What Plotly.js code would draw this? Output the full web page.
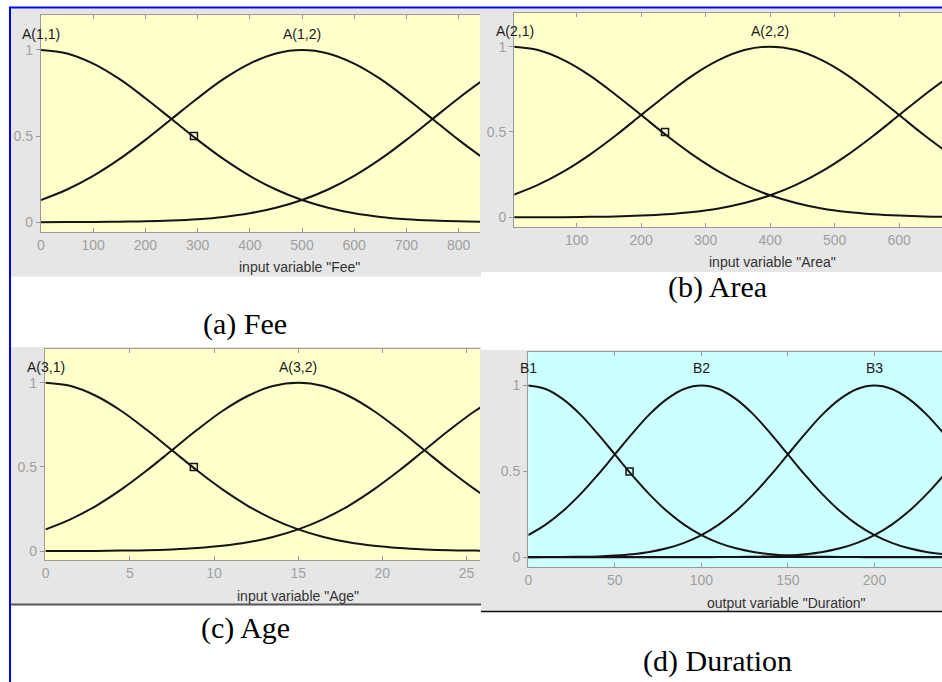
<!DOCTYPE html>
<html>
<head>
<meta charset="utf-8">
<script src="https://cdn.plot.ly/plotly-3.0.1.min.js"></script>
<style>html,body{margin:0;padding:0;background:#fff;}#chart{width:942px;height:682px;}</style>
</head>
<body>
<div id="chart"></div>
<script>
// ---------- Data ----------
// (a) Fee
const feeX = [0,50,100,150,200,250,300,350,400,450,500,550,600,650,700,750,800,850];
const feeA11 = [1,0.980,0.921,0.832,0.720,0.599,0.478,0.366,0.269,0.190,0.129,0.084,0.052,0.031,0.018,0.010,0.005,0.003];
const feeA12 = [0.129,0.190,0.269,0.366,0.478,0.599,0.720,0.832,0.921,0.980,1,0.980,0.921,0.832,0.720,0.599,0.478,0.366];
const feeA13 = [0,0.001,0.001,0.003,0.005,0.010,0.018,0.031,0.052,0.084,0.129,0.190,0.269,0.366,0.478,0.599,0.720,0.832];
const feeLabels = ["A(1,1)","A(1,2)"];
const feeLabelX = [0,500];
const feeTicks = [0,100,200,300,400,500,600,700,800];
const feeMarkX = [293], feeMarkY = [0.5];

// (b) Area
const areaX = [0,40,80,120,160,200,240,280,320,360,400,440,480,520,560,600,640,680];
const areaA21 = [1,0.980,0.921,0.832,0.720,0.599,0.478,0.366,0.269,0.190,0.129,0.084,0.052,0.031,0.018,0.010,0.005,0.003];
const areaA22 = [0.129,0.190,0.269,0.366,0.478,0.599,0.720,0.832,0.921,0.980,1,0.980,0.921,0.832,0.720,0.599,0.478,0.366];
const areaA23 = [0,0.001,0.001,0.003,0.005,0.010,0.018,0.031,0.052,0.084,0.129,0.190,0.269,0.366,0.478,0.599,0.720,0.832];
const areaLabels = ["A(2,1)","A(2,2)"];
const areaLabelX = [4,400];
const areaTicks = [100,200,300,400,500,600];
const areaMarkX = [237], areaMarkY = [0.5];

// (c) Age
const ageX = [0,1.5,3,4.5,6,7.5,9,10.5,12,13.5,15,16.5,18,19.5,21,22.5,24,25.5,27];
const ageA31 = [1,0.980,0.921,0.832,0.720,0.599,0.478,0.366,0.269,0.190,0.129,0.084,0.052,0.031,0.018,0.010,0.005,0.003,0.001];
const ageA32 = [0.129,0.190,0.269,0.366,0.478,0.599,0.720,0.832,0.921,0.980,1,0.980,0.921,0.832,0.720,0.599,0.478,0.366,0.269];
const ageA33 = [0,0.001,0.001,0.003,0.005,0.010,0.018,0.031,0.052,0.084,0.129,0.190,0.269,0.366,0.478,0.599,0.720,0.832,0.921];
const ageLabels = ["A(3,1)","A(3,2)"];
const ageLabelX = [0,15];
const ageTicks = [0,5,10,15,20,25];
const ageMarkX = [8.8], ageMarkY = [0.5];

// (d) Duration
const durX = [0,10,20,30,40,50,60,70,80,90,100,110,120,130,140,150,160,170,180,190,200,210,220,230,240];
const durB1 = [1,0.980,0.921,0.832,0.720,0.599,0.478,0.366,0.269,0.190,0.129,0.084,0.052,0.031,0.018,0.010,0.005,0.003,0.001,0.001,0,0,0,0,0];
const durB2 = [0.129,0.190,0.269,0.366,0.478,0.599,0.720,0.832,0.921,0.980,1,0.980,0.921,0.832,0.720,0.599,0.478,0.366,0.269,0.190,0.129,0.084,0.052,0.031,0.018];
const durB3 = [0,0.001,0.001,0.003,0.005,0.010,0.018,0.031,0.052,0.084,0.129,0.190,0.269,0.366,0.478,0.599,0.720,0.832,0.921,0.980,1,0.980,0.921,0.832,0.720];
const durB4 = [0,0,0,0,0,0,0,0,0,0,0,0.001,0.001,0.003,0.005,0.010,0.018,0.031,0.052,0.084,0.129,0.190,0.269,0.366,0.478];
const durLabels = ["B1","B2","B3"];
const durLabelX = [0,100,200];
const durTicks = [0,50,100,150,200];
const durMarkX = [58.5], durMarkY = [0.5];

const yTicks = [0,0.5,1];
const yTickText = ["0","0.5","1"];
const captions = ["(a) Fee","(b) Area","(c) Age","(d) Duration"];
const axisTitles = ['input variable "Fee"','input variable "Area"','input variable "Age"','output variable "Duration"'];

// ---------- Build ----------
const W = 942, H = 682;
const px = v => v / W;
const py = v => 1 - v / H;

const panels = [
  {xs:feeX, ys:[feeA11,feeA12,feeA13], mx:feeMarkX, my:feeMarkY, labels:feeLabels, lx:feeLabelX, ticks:feeTicks,
   xd:[px(41),px(480)], yd:[py(231.7),py(15)], xr:[0,841], yr:[-0.055,1.203], bg:'#ffffcc', ly:1.09, tx:495, ty:267},
  {xs:areaX, ys:[areaA21,areaA22,areaA23], mx:areaMarkX, my:areaMarkY, labels:areaLabels, lx:areaLabelX, ticks:areaTicks,
   xd:[px(514.3),1], yd:[py(226.7),py(12.7)], xr:[3.3,666.4], yr:[-0.055,1.199], bg:'#ffffcc', ly:1.09, tx:403, ty:262},
  {xs:ageX, ys:[ageA31,ageA32,ageA33], mx:ageMarkX, my:ageMarkY, labels:ageLabels, lx:ageLabelX, ticks:ageTicks,
   xd:[px(45),px(480)], yd:[py(560),py(349)], xr:[-0.04,25.8], yr:[-0.053,1.2], bg:'#ffffcc', ly:1.095, tx:15, ty:596},
  {xs:durX, ys:[durB1,durB2,durB3,durB4], mx:durMarkX, my:durMarkY, labels:durLabels, lx:durLabelX, ticks:durTicks,
   xd:[px(528.3),1], yd:[py(566.7),py(351.7)], xr:[0,239], yr:[-0.055,1.197], bg:'#ccffff', ly:1.10, tx:149, ty:603, zero:true}
];

const traces = [];
const annotations = [];
const shapes = [];
const layout = {
  width: W, height: H,
  margin: {l:0, r:0, t:0, b:0},
  paper_bgcolor: '#ffffff',
  plot_bgcolor: 'rgba(0,0,0,0)',
  showlegend: false,
  font: {family: '"Liberation Sans", Arial, sans-serif', size: 14, color: '#222'}
};

// grey figure panels (paper coords)
const greyPanels = [[11,8.5,481,276.5],[481,8.5,942,272],[11,347,481,604],[481,350,942,611]];
greyPanels.forEach(g => shapes.push({type:'rect', xref:'paper', yref:'paper', x0:px(g[0]), x1:px(g[2]), y0:py(g[3]), y1:py(g[1]),
  fillcolor:'#e6e6e6', line:{width:0}, layer:'below'}));
// dark bottom edges of lower panels
shapes.push({type:'line', xref:'paper', yref:'paper', x0:px(11), x1:px(481), y0:py(604.5), y1:py(604.5), line:{color:'#555', width:2}, layer:'above'});
shapes.push({type:'line', xref:'paper', yref:'paper', x0:px(481), x1:1, y0:py(611.5), y1:py(611.5), line:{color:'#111', width:1.5}, layer:'above'});
// blue frame lines
shapes.push({type:'line', xref:'paper', yref:'paper', x0:px(9), x1:1, y0:py(7.5), y1:py(7.5), line:{color:'#0000ff', width:2}, layer:'above'});
shapes.push({type:'line', xref:'paper', yref:'paper', x0:px(10), x1:px(10), y0:py(7), y1:0, line:{color:'#0000ff', width:2}, layer:'above'});

panels.forEach((p, i) => {
  const n = i + 1;
  const xa = n === 1 ? 'x' : 'x' + n;
  const ya = n === 1 ? 'y' : 'y' + n;
  const xk = n === 1 ? 'xaxis' : 'xaxis' + n;
  const yk = n === 1 ? 'yaxis' : 'yaxis' + n;

  shapes.push({type:'rect', xref: xa + ' domain', yref: ya + ' domain', x0:0, x1:1, y0:0, y1:1,
    fillcolor:p.bg, line:{width:0}, layer:'below'});

  p.ys.forEach(ys => traces.push({type:'scatter', mode:'lines', x:p.xs, y:ys, xaxis:xa, yaxis:ya,
    line:{color:'#141414', width:2, shape:'spline', smoothing:1}, hoverinfo:'skip'}));
  traces.push({type:'scatter', mode:'markers', x:p.mx, y:p.my, xaxis:xa, yaxis:ya,
    marker:{symbol:'square-open', size:7, color:'#141414', line:{width:1.5}}, hoverinfo:'skip'});

  layout[xk] = {domain:p.xd, range:p.xr, anchor:ya, showgrid:false, zeroline:false,
    showline:true, linecolor:'#9a9a9a', linewidth:1.2, mirror:'ticks',
    ticks:'inside', ticklen:4, tickcolor:'#9a9a9a', tickvals:p.ticks,
    tickfont:{family:'"Liberation Sans", Arial, sans-serif', size:14, color:'#a0a0a0'}, fixedrange:true};
  layout[yk] = {domain:p.yd, range:p.yr, anchor:xa, showgrid:false,
    zeroline: !!p.zero, zerolinecolor:'#141414', zerolinewidth:2,
    showline:true, linecolor:'#9a9a9a', linewidth:1.2,
    ticks:'outside', ticklen:4, tickcolor:'#9a9a9a', tickvals:yTicks, ticktext:yTickText,
    tickfont:{family:'"Liberation Sans", Arial, sans-serif', size:14, color:'#a0a0a0'}, fixedrange:true};

  p.labels.forEach((t, k) => annotations.push({text:t, x:p.lx[k], y:p.ly, xref:xa, yref:ya,
    showarrow:false, xanchor:'center', yanchor:'middle',
    font:{family:'"Liberation Sans", Arial, sans-serif', size:14, color:'#1a1a1a'}}));

  annotations.push({text:axisTitles[i], x:p.tx, y:py(p.ty), xref:xa, yref:'paper',
    showarrow:false, xanchor:'center', yanchor:'middle',
    font:{family:'"Liberation Sans", Arial, sans-serif', size:14, color:'#333'}});
});

// captions
const capPos = [[245,324],[717,287],[245,628],[717,661]];
captions.forEach((c, i) => annotations.push({text:c, x:px(capPos[i][0]), y:py(capPos[i][1]), xref:'paper', yref:'paper',
  showarrow:false, xanchor:'center', yanchor:'middle',
  font:{family:'"Liberation Serif", "Times New Roman", serif', size:30, color:'#000'}}));

layout.shapes = shapes;
layout.annotations = annotations;

Plotly.newPlot('chart', traces, layout, {staticPlot:true, displayModeBar:false});
</script>
</body>
</html>
